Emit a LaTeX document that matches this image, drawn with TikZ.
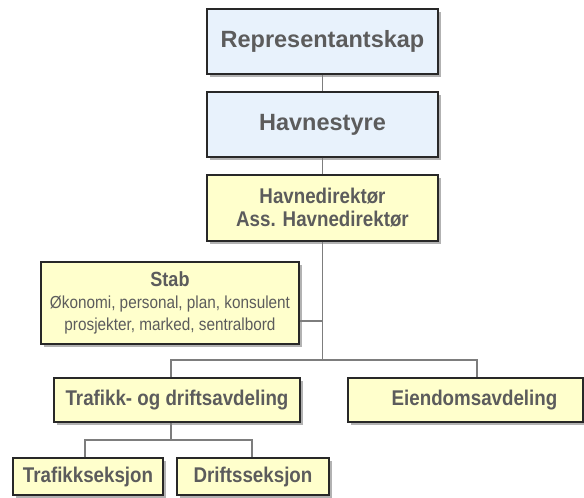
\documentclass[tikz,border=0pt]{standalone}
\usepackage{fontspec}
\setmainfont{Liberation Sans}
\newfontfamily\narrowfont{Liberation Sans}[FakeStretch=0.88]
\usetikzlibrary{shadows}
\definecolor{boardfill}{RGB}{232,242,252}
\definecolor{unitfill}{RGB}{255,255,204}
\definecolor{labelgray}{RGB}{92,92,92}
\definecolor{linkgray}{RGB}{125,125,125}
\definecolor{edgedark}{RGB}{40,40,40}
\newcommand{\stabhead}{\narrowfont\bfseries\fontsize{20.5}{22}\selectfont}
\newcommand{\stabbody}{\narrowfont\mdseries\fontsize{17.4}{22}\selectfont}
\tikzset{
  orgbox/.style={draw=edgedark, line width=1.3pt, inner sep=0pt, align=center,
    text=labelgray,
    drop shadow={shadow xshift=2.5pt, shadow yshift=-2.5pt, fill=black, opacity=0.3}},
  board/.style={orgbox, fill=boardfill,
    font=\bfseries\fontsize{23.5}{26}\selectfont},
  unit/.style={orgbox, fill=unitfill,
    font=\narrowfont\bfseries\fontsize{21.3}{23}\selectfont},
  staff/.style={orgbox, fill=unitfill, font=\stabbody},
  link/.style={draw=linkgray, line width=1.4pt}
}
\begin{document}
\begin{tikzpicture}[x=1pt, y=-1pt]
\useasboundingbox (0,0) rectangle (584,498);

% governing bodies
\node[board, minimum width=231pt, minimum height=65pt] (rep) at (322.5,41.5) {Representantskap};
\node[board, minimum width=231pt, minimum height=65pt] (styre) at (322.5,124.5) {Havnestyre};

% management
\node[unit, minimum width=231pt, minimum height=66pt] (dir) at (322.5,208)
  {Havnedirektør\\Ass. Havnedirektør};

% staff functions
\node[staff, minimum width=258pt, minimum height=82pt] (stab) at (170,303)
  {{\stabhead Stab}\\Økonomi, personal, plan, konsulent\\prosjekter, marked, sentralbord};

% departments
\node[unit, minimum width=246pt, minimum height=44pt] (traf) at (177,400) {Trafikk- og driftsavdeling};
\node[unit, minimum width=235pt, minimum height=44pt] (eien) at (465.5,400)
  {\hspace*{18pt}Eiendomsavdeling};

% sections
\node[unit, minimum width=150pt, minimum height=37pt] (tseks) at (88,476.5) {Trafikkseksjon};
\node[unit, minimum width=152pt, minimum height=37pt] (dseks) at (253,476.5) {Driftsseksjon};

% bus coordinates of the lower branches
\coordinate (busL) at (171,360);
\coordinate (busR) at (477,360);
\coordinate (subL) at (85,440);
\coordinate (subR) at (252,440);

% connectors
\draw[link] (rep.south) -- (styre.north);
\draw[link] (styre.south) -- (dir.north);
\draw[link] (dir.south) -- (dir.south |- busL);
\draw[link] ([yshift=-18pt]stab.east) -- ([yshift=-18pt]stab.east -| dir.south);
\draw[link] (traf.north -| busL) -- (busL) -- (busR) -- (eien.north -| busR);
\draw[link] (traf.south -| busL) -- (busL |- subL);
\draw[link] (tseks.north -| subL) -- (subL) -- (subR) -- (dseks.north -| subR);
\end{tikzpicture}
\end{document}
